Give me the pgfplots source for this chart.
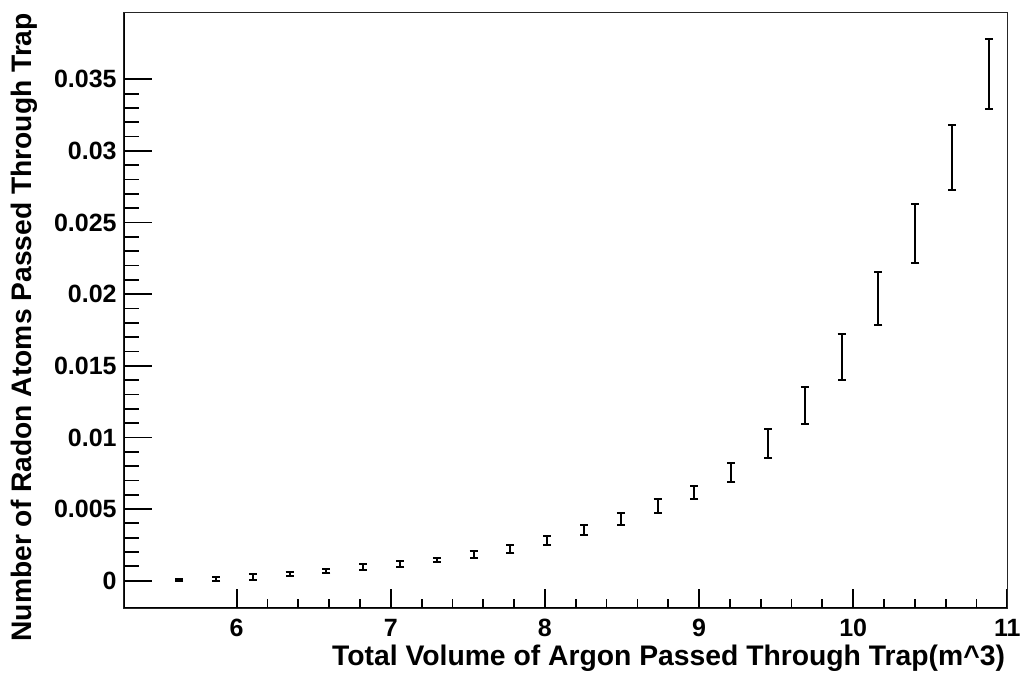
\documentclass[border=0pt]{standalone}
\usepackage{fontspec}
\setmainfont{Liberation Sans}
\usepackage{pgfplots}
\pgfplotsset{compat=1.18}
\pgfplotstableread{
x y e
5.627 0.00003 0.00008
5.866 0.00010 0.00013
6.105 0.00027 0.00020
6.343 0.00045 0.00015
6.582 0.00066 0.00014
6.821 0.00094 0.00020
7.060 0.00114 0.00020
7.299 0.00143 0.00014
7.537 0.00182 0.00023
7.776 0.00219 0.00028
8.015 0.00282 0.00032
8.254 0.00354 0.00038
8.493 0.00430 0.00040
8.731 0.00520 0.00049
8.970 0.00616 0.00048
9.209 0.00755 0.00064
9.448 0.00959 0.00100
9.687 0.01222 0.00128
9.925 0.01560 0.00162
10.164 0.01971 0.00184
10.403 0.02424 0.00204
10.642 0.02954 0.00227
10.881 0.03536 0.00244
}\datatable
\begin{document}
\begin{tikzpicture}
\pgfplotsset{
  rootbase/.style={
    scale only axis, width=441.65pt, height=297.65pt,
    at={(0,0)}, anchor=south west,
    xmin=5.269, xmax=11, ymin=-0.001906, ymax=0.039649,
    axis line style={line width=0.8pt, draw=black!85},
    tick align=inside, tick pos=left,
    tick style={line width=0.9pt, black},
    /pgf/number format/assume math mode=true,
    ticklabel style={font=\fontsize{12.5}{14}\selectfont\bfseries},
    scaled ticks=false,
  }
}
% x axis ticks, labels and data
\begin{axis}[rootbase,
  xtick={6,7,8,9,10,11}, minor x tick num=4,
  ytick=\empty,
  major tick length=9.5pt, minor tick length=4.7pt,
  xticklabel style={inner sep=0pt, anchor=north, yshift=-5.5pt},
  xlabel={Total Volume of Argon Passed Through Trap(m\textasciicircum 3)},
  xlabel style={at={([xshift=-1pt,yshift=-28.85pt]rel axis cs:1,0)}, anchor=base east, inner sep=0pt,
    font=\fontsize{14.15}{17}\selectfont\bfseries},
]
\addplot[draw=none, mark=none,
  error bars/.cd, y dir=both, y explicit,
  error bar style={draw=black, line width=1pt},
  error mark options={rotate=90, draw=black, line width=1pt, mark size=2pt}]
  table[x=x, y=y, y error=e]{\datatable};
\end{axis}
% y axis ticks and labels
\begin{axis}[rootbase,
  xtick=\empty,
  ytick={0,0.005,0.01,0.015,0.02,0.025,0.03,0.035},
  yticklabels={0,0.005,0.01,0.015,0.02,0.025,0.03,0.035},
  minor y tick num=4,
  major tick length=13.8pt, minor tick length=7.7pt,
  yticklabel style={inner sep=0pt, anchor=east, xshift=-3.5pt},
  ylabel={Number of Radon Atoms Passed Through Trap},
  ylabel style={at={([xshift=-46pt]rel axis cs:0,1)}, anchor=base east, inner sep=0pt,
    font=\fontsize{14.1}{17}\selectfont\bfseries},
]
\draw[line width=1.3pt, black] (rel axis cs:0,1) -- (rel axis cs:0,0) -- (rel axis cs:1,0);
\end{axis}
\pgfresetboundingbox
\path[use as bounding box] (-62pt,-32.5pt) rectangle (449pt,304pt);
\end{tikzpicture}
\end{document}
